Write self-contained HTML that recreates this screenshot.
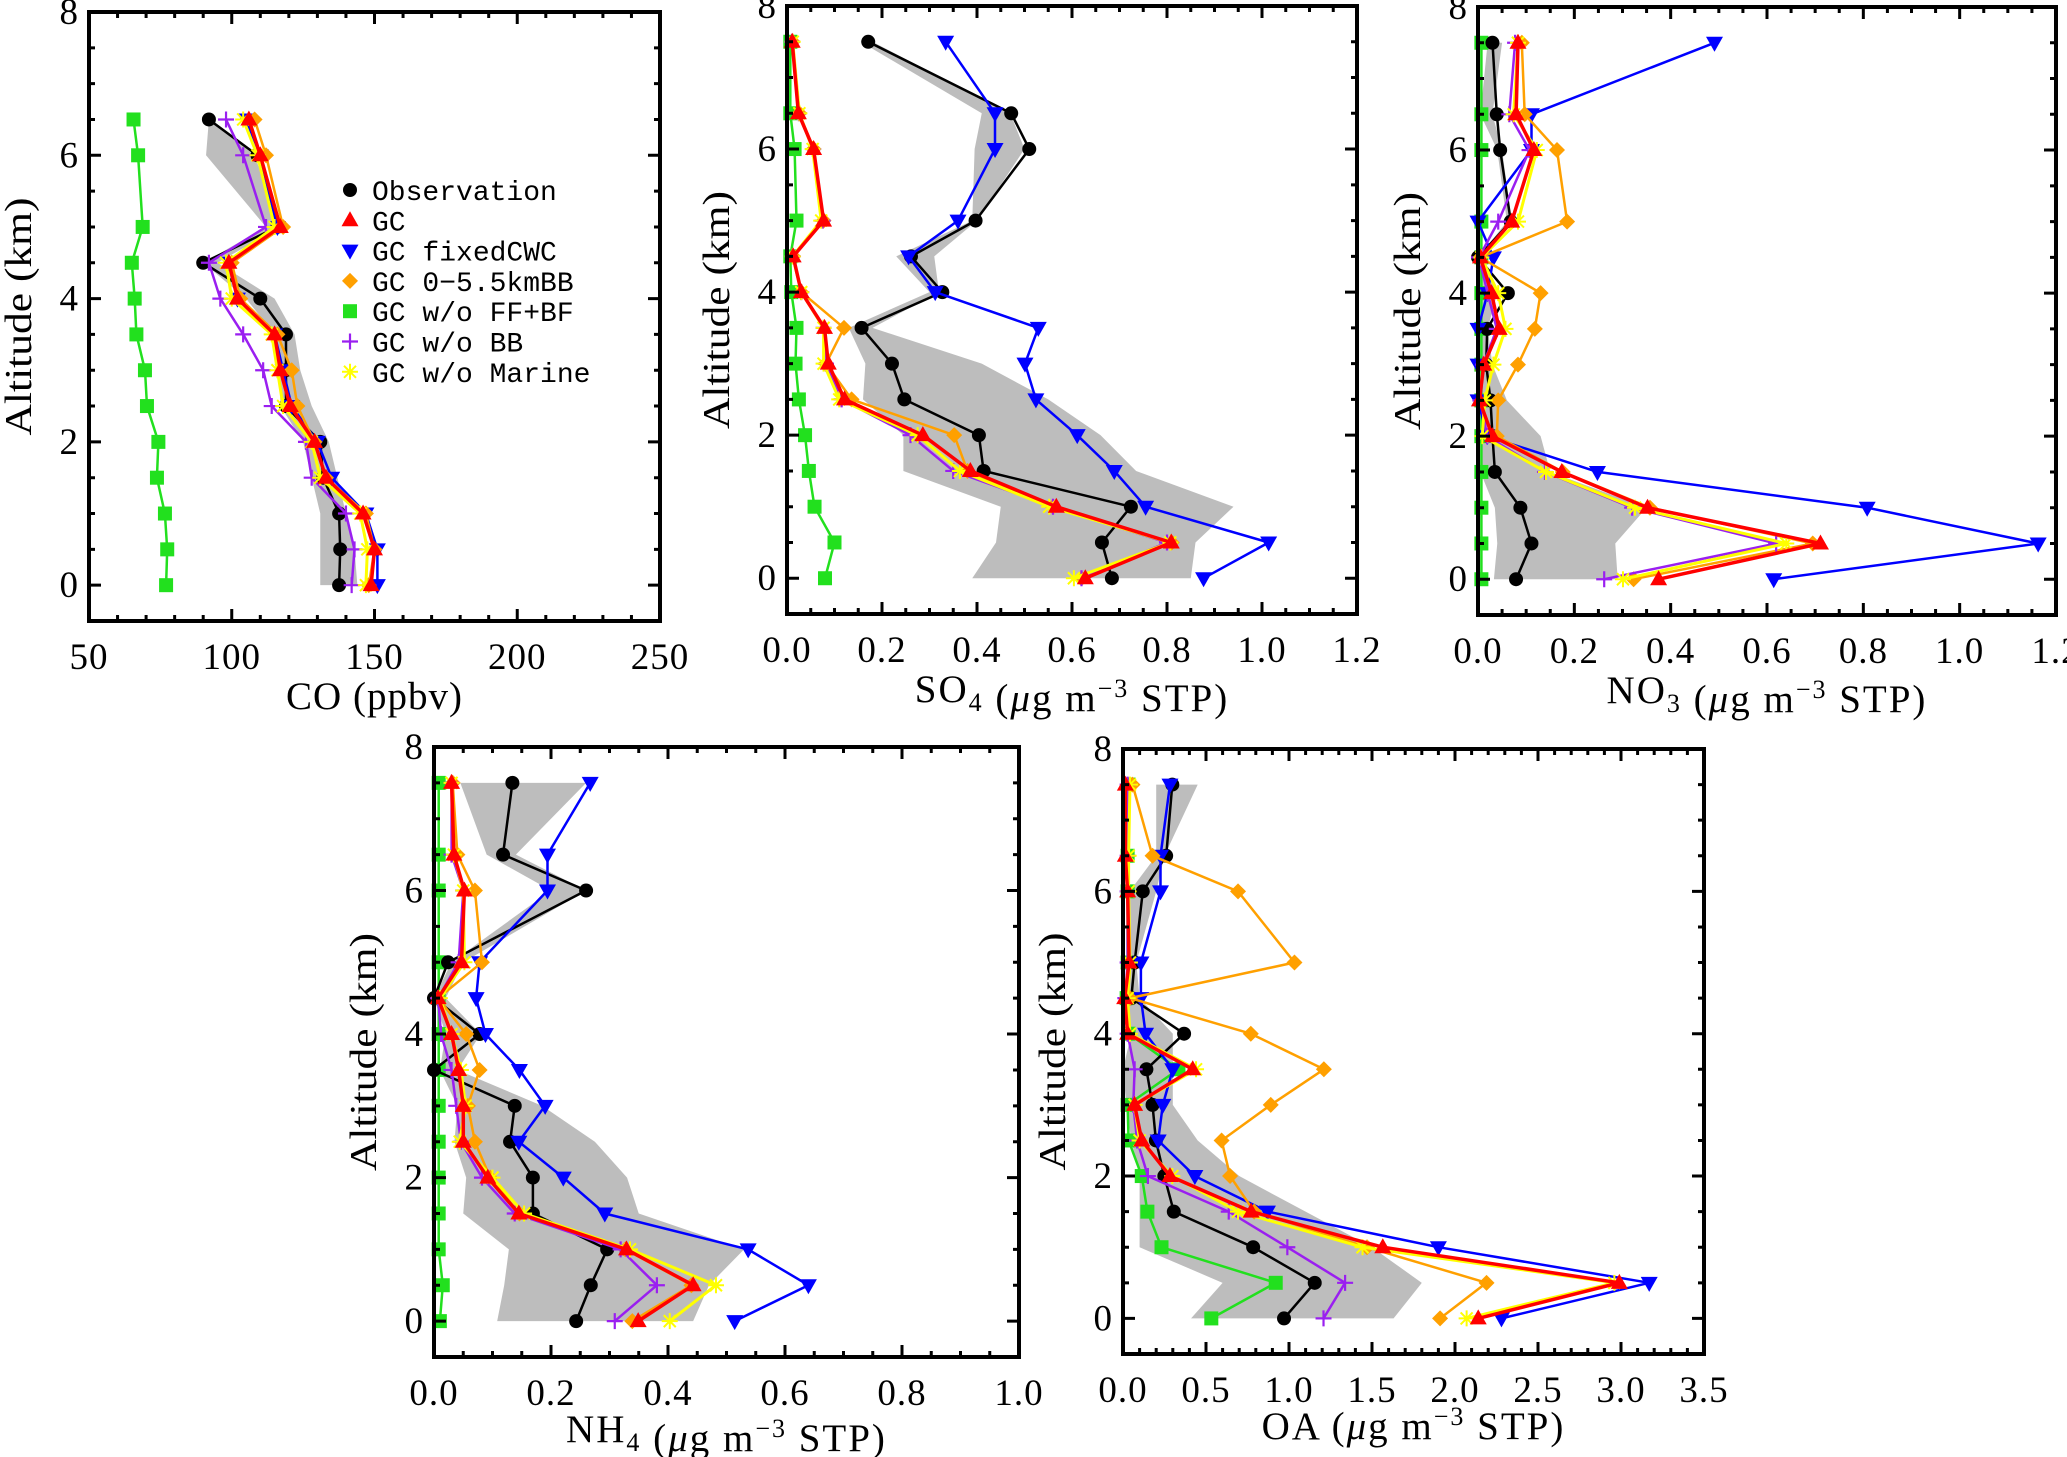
<!DOCTYPE html>
<html><head><meta charset="utf-8"><title>Vertical profiles</title>
<style>
html,body{margin:0;padding:0;background:#fff;}
svg{display:block;font-family:"Liberation Serif",serif;}
</style></head>
<body>
<svg id="fig" width="2067" height="1457" viewBox="0 0 2067 1457" xmlns="http://www.w3.org/2000/svg"></svg>
<script>
// ---- altitude levels ----
const levelsCO = [0,0.5,1,1.5,2,2.5,3,3.5,4,4.5,5,6,6.5];
const levelsAer = [0,0.5,1,1.5,2,2.5,3,3.5,4,4.5,5,6,6.5,7.5];

// ---- CO (ppbv) ----
const coObs    = [137.6,138,137.6,132,131,119,119,119,110,90,116,109,92];
const coBandLo = [131,131,131,128,125,117,117,115,105,90,112,91,92];
const coBandHi = [144,143,140,137,134,128,124,122,115,95,117,108,92];
const coGC     = [148.8,150,146,133,129,120.5,117,115,102,99,117,110,106];
const coFixed  = [151,151,147,135,130,121,118,115,102,99,116,110,105];
const coBB55   = [148,150,147,133,129,123,121,116,103,100,118,112,108];
const coNoFF   = [77,77.4,76.6,73.8,74.3,70.3,69.6,66.6,66,65,68.8,67.2,65.6];
const coNoBB   = [142,143,140,128,126,114,111,104,96,92,112,104,98];
const coNoMar  = [147,147.5,145,131,128,118,116,114,100,98,115,109,104];

// ---- SO4 ----
const so4Obs    = [0.684,0.663,0.724,0.414,0.404,0.247,0.221,0.157,0.327,0.261,0.397,0.510,0.472,0.171];
const so4BandLo = [0.39,0.44,0.45,0.245,0.245,0.16,0.165,0.13,0.30,0.23,0.39,0.395,0.41,0.155];
const so4BandHi = [0.85,0.86,0.94,0.735,0.66,0.55,0.41,0.18,0.32,0.31,0.40,0.50,0.47,0.18];
const so4GC     = [0.628,0.809,0.567,0.386,0.286,0.121,0.087,0.079,0.030,0.013,0.077,0.056,0.024,0.011];
const so4Fixed  = [0.877,1.014,0.755,0.689,0.611,0.524,0.501,0.529,0.312,0.256,0.36,0.438,0.438,0.334];
const so4BB55   = [0.62,0.81,0.56,0.38,0.352,0.136,0.082,0.12,0.03,0.013,0.077,0.056,0.026,0.012];
const so4NoFF   = [0.08,0.10,0.058,0.046,0.038,0.025,0.018,0.02,0.009,0.007,0.02,0.016,0.007,0.007];
const so4NoBB   = [0.62,0.80,0.56,0.35,0.26,0.115,0.082,0.077,0.03,0.012,0.075,0.055,0.025,0.011];
const so4NoMar  = [0.604,0.807,0.552,0.364,0.275,0.11,0.077,0.077,0.03,0.012,0.072,0.054,0.026,0.012];

// ---- NO3 ----
const no3Obs    = [0.079,0.111,0.088,0.035,0.03,0.026,0.017,0.019,0.062,0.0,0.068,0.046,0.039,0.03];
const no3BandLo = [0.033,0.04,0.035,0.005,0.005,0.005,0.005,0.002,0.005,0.0,0.06,0.04,0.005,0.02];
const no3BandHi = [0.29,0.285,0.35,0.15,0.13,0.06,0.03,0.02,0.04,0.01,0.07,0.05,0.03,0.05];
const no3GC     = [0.375,0.711,0.352,0.174,0.03,0.003,0.012,0.044,0.028,0.005,0.07,0.116,0.079,0.083];
const no3Fixed  = [0.614,1.163,0.808,0.248,0.019,0.0,0.0,0.0,0.02,0.032,0.0,0.111,0.111,0.491];
const no3BB55   = [0.323,0.695,0.357,0.176,0.039,0.042,0.083,0.118,0.13,0.005,0.185,0.164,0.097,0.091];
const no3NoFF   = [0.007,0.007,0.007,0.007,0.007,0.007,0.007,0.007,0.007,0.007,0.007,0.007,0.007,0.007];
const no3NoBB   = [0.262,0.619,0.32,0.139,0.019,0.005,0.011,0.039,0.02,0.002,0.042,0.107,0.065,0.077];
const no3NoMar  = [0.301,0.64,0.326,0.141,0.009,0.014,0.032,0.057,0.042,0.007,0.083,0.122,0.074,0.083];

// ---- NH4 ----
const nh4Obs    = [0.243,0.268,0.296,0.169,0.169,0.13,0.138,0.0,0.078,0.0,0.024,0.26,0.118,0.134];
const nh4BandLo = [0.108,0.12,0.128,0.05,0.055,0.035,0.04,0.01,0.02,0.0,0.03,0.2,0.09,0.045];
const nh4BandHi = [0.443,0.47,0.53,0.35,0.33,0.275,0.185,0.04,0.08,0.02,0.05,0.26,0.14,0.26];
const nh4GC     = [0.349,0.443,0.329,0.145,0.092,0.05,0.05,0.042,0.03,0.007,0.047,0.052,0.034,0.03];
const nh4Fixed  = [0.514,0.64,0.537,0.292,0.221,0.145,0.19,0.146,0.088,0.072,0.078,0.194,0.194,0.267];
const nh4BB55   = [0.339,0.44,0.327,0.146,0.096,0.07,0.058,0.078,0.055,0.007,0.082,0.07,0.04,0.032];
const nh4NoFF   = [0.01,0.015,0.008,0.008,0.008,0.008,0.008,0.008,0.008,0.008,0.008,0.008,0.008,0.008];
const nh4NoBB   = [0.309,0.381,0.319,0.138,0.082,0.046,0.038,0.03,0.012,0.007,0.042,0.05,0.03,0.03];
const nh4NoMar  = [0.403,0.482,0.335,0.154,0.1,0.044,0.054,0.046,0.03,0.01,0.052,0.05,0.034,0.03];

// ---- OA ----
const oaObs    = [0.97,1.155,0.784,0.306,0.249,0.198,0.178,0.141,0.368,0.05,0.07,0.119,0.26,0.297];
const oaBandLo = [0.41,0.6,0.1,0.1,0.1,0.05,0.02,0.0,0.05,0.02,0.05,0.04,0.2,0.2];
const oaBandHi = [1.63,1.8,1.5,1.1,0.7,0.45,0.3,0.3,0.3,0.1,0.08,0.2,0.25,0.45];
const oaGC     = [2.14,2.99,1.565,0.772,0.283,0.113,0.07,0.42,0.028,0.01,0.037,0.028,0.014,0.014];
const oaFixed  = [2.28,3.17,1.9,0.87,0.433,0.212,0.24,0.3,0.136,0.108,0.108,0.226,0.226,0.283];
const oaBB55   = [1.91,2.19,1.47,0.79,0.645,0.594,0.89,1.21,0.77,0.042,1.033,0.693,0.178,0.057];
const oaNoFF   = [0.532,0.92,0.232,0.147,0.113,0.034,0.028,0.334,0.034,0.022,0.028,0.028,0.028,0.034];
const oaNoBB   = [1.208,1.338,0.99,0.637,0.15,0.085,0.062,0.07,0.028,0.014,0.028,0.028,0.028,0.028];
const oaNoMar  = [2.07,2.96,1.443,0.693,0.297,0.1,0.07,0.44,0.042,0.028,0.042,0.034,0.034,0.042];

// ---- axis tick labels ----
const coTicks  = [50,100,150,200,250];
const so4Ticks = ["0.0","0.2","0.4","0.6","0.8","1.0","1.2"];
const no3Ticks = ["0.0","0.2","0.4","0.6","0.8","1.0","1.2"];
const nh4Ticks = ["0.0","0.2","0.4","0.6","0.8","1.0"];
const oaTicks  = ["0.0","0.5","1.0","1.5","2.0","2.5","3.0","3.5"];
const altTicks = [0,2,4,6,8];

const legendLabels = ["Observation","GC","GC fixedCWC","GC 0\u22125.5kmBB","GC w/o FF+BF","GC w/o BB","GC w/o Marine"];

const NS = "http://www.w3.org/2000/svg";
const svg = document.getElementById('fig');
function mk(tag, attrs, parent){
  const e = document.createElementNS(NS, tag);
  for (const k in attrs) e.setAttribute(k, attrs[k]);
  (parent||svg).appendChild(e);
  return e;
}

function marker(g, type, cx, cy, color){
  let e;
  if (type==='circle'){
    e = mk('circle',{cx:cx,cy:cy,r:7,fill:color},g);
  } else if (type==='up'){
    e = mk('polygon',{points:`${cx},${cy-9} ${cx-8.5},${cy+6} ${cx+8.5},${cy+6}`,fill:color},g);
  } else if (type==='down'){
    e = mk('polygon',{points:`${cx},${cy+9} ${cx-8.5},${cy-6} ${cx+8.5},${cy-6}`,fill:color},g);
  } else if (type==='diamond'){
    e = mk('polygon',{points:`${cx},${cy-8} ${cx+8},${cy} ${cx},${cy+8} ${cx-8},${cy}`,fill:color},g);
  } else if (type==='square'){
    e = mk('rect',{x:cx-7,y:cy-7,width:14,height:14,fill:color},g);
  } else if (type==='plus'){
    e = mk('path',{d:`M${cx-8},${cy}H${cx+8}M${cx},${cy-8}V${cy+8}`,stroke:color,'stroke-width':2.2,fill:'none'},g);
  } else if (type==='star'){
    e = mk('path',{d:`M${cx-8},${cy}H${cx+8}M${cx},${cy-8}V${cy+8}M${cx-6},${cy-6}L${cx+6},${cy+6}M${cx-6},${cy+6}L${cx+6},${cy-6}`,stroke:color,'stroke-width':2,fill:'none'},g);
  }
  return e;
}

const seriesStyle = [
  {key:'noff', color:'#22e01e', type:'square', w:2.5, name:'series-gc-without-ff-bf'},
  {key:'obs', color:'#000000', type:'circle', w:2.5, name:'series-observation'},
  {key:'fixed', color:'#0000ff', type:'down', w:2.5, name:'series-gc-fixedcwc'},
  {key:'bb55', color:'#ffa000', type:'diamond', w:2.5, name:'series-gc-0-5.5km-bb'},
  {key:'nobb', color:'#9a1ff0', type:'plus', w:2.5, name:'series-gc-without-bb'},
  {key:'nomar', color:'#ffff00', type:'star', w:3, name:'series-gc-without-marine'},
  {key:'gc', color:'#ff0000', type:'up', w:3.5, name:'series-gc'}
];

function drawPanel(p){
  const g = mk('g',{});
  
  
  const X = v => p.l + (v - p.xmin)/(p.xmax - p.xmin)*(p.r - p.l);
  const Y = v => p.b - (v + 0.5)/8.5*(p.b - p.t);

  const pts = [];
  p.levels.forEach((a,i)=>pts.push(X(p.lo[i])+','+Y(a)));
  for (let i=p.levels.length-1;i>=0;i--) pts.push(X(p.hi[i])+','+Y(p.levels[i]));
  const band = mk('polygon',{points:pts.join(' '),fill:'#bdbdbd',stroke:'none'},g);
  
  

  seriesStyle.forEach(s=>{
    const vals = p.data[s.key];
    const sg = mk('g',{},g);
    
    
    const d = p.levels.map((a,i)=>(i?'L':'M')+X(vals[i]).toFixed(1)+','+Y(a).toFixed(1)).join('');
    mk('path',{d:d,fill:'none',stroke:s.color,'stroke-width':s.w,'stroke-linejoin':'round'},sg);
    p.levels.forEach((a,i)=>{
      const m = marker(sg, s.type, X(vals[i]), Y(a), s.color);
      
      
    });
  });

  let td = '';
  for (let v=p.xmin; v<=p.xmax+1e-9; v+=p.xminor){
    const isMaj = Math.abs(Math.round((v-p.xmin)/p.xmajor)*p.xmajor-(v-p.xmin))<1e-6;
    const len = isMaj?12:6; const x = X(v);
    td += `M${x},${p.b}v${-len}M${x},${p.t}v${len}`;
  }
  for (let v=-0.5; v<=8+1e-9; v+=0.5){
    const isMaj = Math.abs(v/2-Math.round(v/2))<1e-6;
    const len = isMaj?12:6; const y = Y(v);
    td += `M${p.l},${y}h${len}M${p.r},${y}h${-len}`;
  }
  mk('path',{d:td,stroke:'#000','stroke-width':3,fill:'none'},g);
  const frame = mk('rect',{x:p.l,y:p.t,width:p.r-p.l,height:p.b-p.t,fill:'none',stroke:'#000','stroke-width':4},g);
  
  

  p.xticks.forEach((lab,i)=>{
    const t = mk('text',{x:X(p.xmin+i*p.xmajor),y:p.b+p.tickDy,'font-size':37,'text-anchor':'middle','letter-spacing':1},g);
    t.textContent = lab;
    
    
  });
  altTicks.forEach(a=>{
    const t = mk('text',{x:p.l-11,y:Y(a)+12,'font-size':37,'text-anchor':'end'},g);
    t.textContent = a;
    
    
  });
  const cy = (p.t+p.b)/2, cx = p.l-70;
  const yt = mk('text',{x:cx,y:cy,'font-size':38,'text-anchor':'middle','dominant-baseline':'central',transform:`rotate(-90 ${cx} ${cy})`,textLength:238,lengthAdjust:'spacingAndGlyphs'},g);
  yt.textContent = 'Altitude (km)';
  
  
  const xt = mk('text',{x:(p.l+p.r)/2,y:p.b+p.titleDy,'font-size':39,'text-anchor':'middle','letter-spacing':p.ls},g);
  
  
  xt.innerHTML = p.title;
  return {g,X,Y};
}

const unit = ' (<tspan font-style="italic">\u03bc</tspan>g m<tspan dy="-14" font-size="26">\u22123</tspan><tspan dy="14"> STP)</tspan>';
function sub(base, s){ return base + `<tspan dy="9" font-size="26">${s}</tspan><tspan dy="-9"></tspan>`; }

drawPanel({name:'co-panel', l:89,r:660,t:12,b:621, xmin:50,xmax:250,xmajor:50,xminor:10,
  levels:levelsCO, lo:coBandLo, hi:coBandHi, xticks:coTicks.map(String), tickDy:48, titleDy:88, ls:1,
  title:'CO (ppbv)',
  data:{obs:coObs,gc:coGC,fixed:coFixed,bb55:coBB55,noff:coNoFF,nobb:coNoBB,nomar:coNoMar}});
drawPanel({name:'so4-panel', l:787,r:1357,t:6,b:614, xmin:0,xmax:1.2,xmajor:0.2,xminor:0.05,
  levels:levelsAer, lo:so4BandLo, hi:so4BandHi, xticks:so4Ticks, tickDy:48, titleDy:88, ls:2,
  title:sub('SO','4')+unit,
  data:{obs:so4Obs,gc:so4GC,fixed:so4Fixed,bb55:so4BB55,noff:so4NoFF,nobb:so4NoBB,nomar:so4NoMar}});
drawPanel({name:'no3-panel', l:1478,r:2056,t:7,b:615, xmin:0,xmax:1.2,xmajor:0.2,xminor:0.05,
  levels:levelsAer, lo:no3BandLo, hi:no3BandHi, xticks:no3Ticks, tickDy:48, titleDy:88, ls:2,
  title:sub('NO','3')+unit,
  data:{obs:no3Obs,gc:no3GC,fixed:no3Fixed,bb55:no3BB55,noff:no3NoFF,nobb:no3NoBB,nomar:no3NoMar}});
drawPanel({name:'nh4-panel', l:434,r:1019,t:747,b:1357, xmin:0,xmax:1.0,xmajor:0.2,xminor:0.05,
  levels:levelsAer, lo:nh4BandLo, hi:nh4BandHi, xticks:nh4Ticks, tickDy:48, titleDy:85, ls:2,
  title:sub('NH','4')+unit,
  data:{obs:nh4Obs,gc:nh4GC,fixed:nh4Fixed,bb55:nh4BB55,noff:nh4NoFF,nobb:nh4NoBB,nomar:nh4NoMar}});
drawPanel({name:'oa-panel', l:1123,r:1704,t:749,b:1354, xmin:0,xmax:3.5,xmajor:0.5,xminor:0.1,
  levels:levelsAer, lo:oaBandLo, hi:oaBandHi, xticks:oaTicks, tickDy:48, titleDy:85, ls:2,
  title:'OA'+unit,
  data:{obs:oaObs,gc:oaGC,fixed:oaFixed,bb55:oaBB55,noff:oaNoFF,nobb:oaNoBB,nomar:oaNoMar}});

const lg = mk('g',{});


const legOrder = ['obs','gc','fixed','bb55','noff','nobb','nomar'];
legOrder.forEach((k,i)=>{
  const s = seriesStyle.find(z=>z.key===k);
  const y = 190 + i*30.3;
  const eg = mk('g',{},lg);
  
  
  marker(eg, s.type, 350, y, s.color);
  const t = mk('text',{x:372,y:y+10,'font-size':28,'font-family':'"Liberation Mono", monospace'},eg);
  t.textContent = legendLabels[i];
});
</script>
</body></html>
